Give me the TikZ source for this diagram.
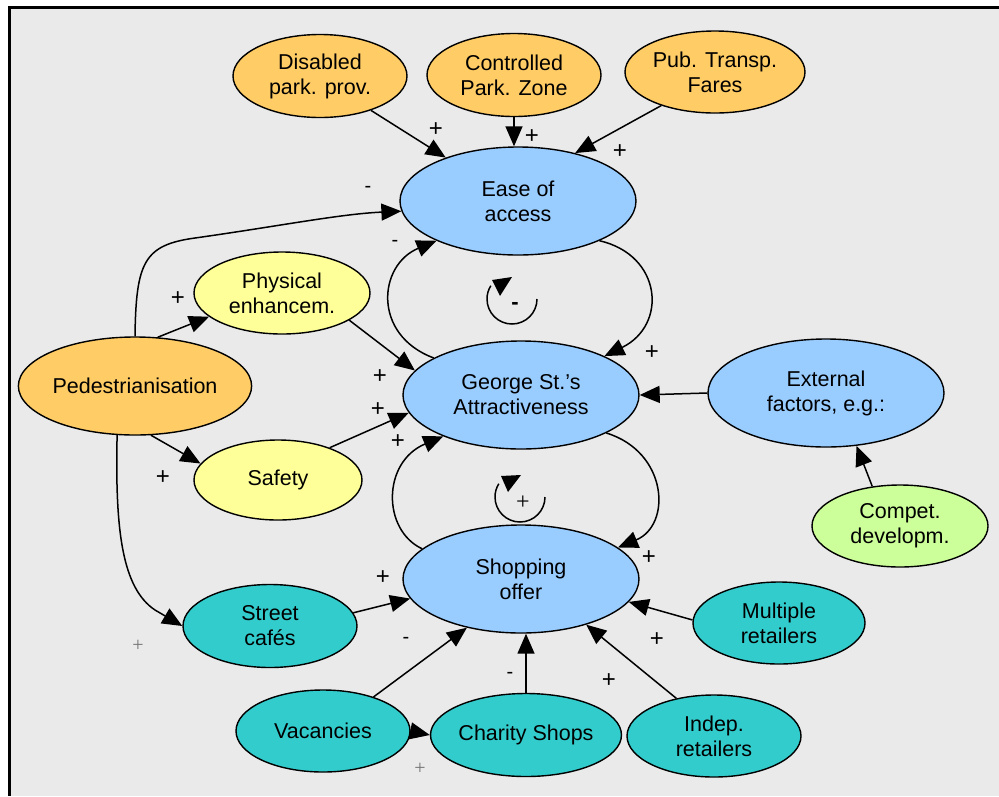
\documentclass[tikz,border=0pt]{standalone}
\usepackage{fontspec}
\setmainfont{Liberation Sans}
\newfontfamily\lightfont{Liberation Serif}
\usetikzlibrary{shapes.geometric,arrows.meta}
\definecolor{bgc}{HTML}{EAEAEA}
\definecolor{orangec}{HTML}{FFCC66}
\definecolor{yellowc}{HTML}{FFFF99}
\definecolor{bluec}{HTML}{99CCFF}
\definecolor{tealc}{HTML}{33CCCC}
\definecolor{greenc}{HTML}{CCFF99}
\begin{document}
\begin{tikzpicture}[x=1pt,y=-1pt,
  el/.style={ellipse, draw=black, line width=1.4pt, inner sep=0pt, align=center,
    font=\fontsize{21.5}{25}\selectfont},
  small/.style={el, minimum width=174pt, minimum height=83pt},
  big/.style={el, minimum width=236pt, minimum height=108pt},
  arr/.style={line width=1.5pt, -{Triangle[length=20pt,width=17pt]}},
  loopline/.style={line width=1.5pt},
  lbl/.style={font=\fontsize{24}{24}\selectfont, inner sep=0pt},
  lbm/.style={font=\fontsize{20}{20}\selectfont, inner sep=0pt},
  lbs/.style={font=\lightfont\fontsize{20}{20}\selectfont, text=black!55, inner sep=0pt}]
\useasboundingbox (0,0) rectangle (999,796);
\fill[white] (0,0) rectangle (999,796);
\fill[bgc] (9,7) rectangle (999,796);
\draw[line width=3pt] (8,7) -- (999,7);
\draw[line width=3pt] (9,7) -- (9,796);

% nodes
\node[small, fill=orangec] (dis) at (320,76) {Disabled\\park. prov.};
\node[small, fill=orangec] (ctl) at (514,75) {Controlled\\Park. Zone};
\node[small, fill=orangec, minimum width=180pt, minimum height=82pt] (pub) at (715,72) {Pub. Transp.\\Fares};
\node[big, fill=bluec] (ease) at (518,201) {Ease of\\access};
\node[small, fill=yellowc, minimum width=176pt, minimum height=82pt] (phy) at (282,293) {Physical\\enhancem.};
\node[el, fill=orangec, minimum width=220pt, minimum height=98pt] (ped) at (135,386) {Pedestrianisation};
\node[big, fill=bluec] (geo) at (521,395) {George St.’s\\Attractiveness};
\node[big, fill=bluec] (ext) at (826,393) {External\\factors, e.g.:};
\node[small, fill=yellowc, minimum width=168pt, minimum height=80pt] (saf) at (278,480) {Safety};
\node[small, fill=greenc, minimum width=176pt, minimum height=82pt] (com) at (900,526) {Compet.\\developm.};
\node[big, fill=bluec] (sho) at (521,579) {Shopping\\offer};
\node[small, fill=tealc] (caf) at (270,626) {Street\\cafés};
\node[small, fill=tealc, minimum width=172pt, minimum height=82pt] (mul) at (779,623) {Multiple\\retailers};
\node[small, fill=tealc, minimum width=174pt, minimum height=82pt] (ind) at (714,736) {Indep.\\retailers};
\node[small, fill=tealc, minimum width=174pt, minimum height=82pt] (vac) at (323,731) {Vacancies};
\node[small, fill=tealc, minimum width=172pt, minimum height=83pt] (cha) at (526,735) {Charity Shops};

% connectors
\draw[arr] (dis.-34) -- (ease.149);
\draw[arr] (ctl.south) -- (ctl.south |- ease.north);
\draw[arr] (pub.212) -- (ease.40);
\draw[arr] (ped.north) .. controls (136,262) and (144,245) .. (195,238)
  .. controls (280,226) and (340,214) .. (ease.185);
\draw[arr] (ped.65) -- (phy.198);
\draw[arr] (phy.-22) -- (geo.167);
\draw[arr] (ped.-72) -- (saf.168);
\draw[arr] (saf.32) -- (geo.189);
\draw[arr] (ped.250) .. controls (115,530) and (122,588) .. (155,610) -- (caf.west);
\draw[arr] (caf.9) -- (sho.190);
\draw[arr] (ease.-26) .. controls (662,255) and (668,325) .. (geo.25);
\draw[arr] (geo.157) .. controls (372,335) and (378,265) .. (ease.206);
\draw[arr] (geo.-24) .. controls (668,452) and (672,525) .. (sho.18);
\draw[arr] (sho.163) .. controls (382,530) and (382,462) .. (geo.208);
\draw[arr] (ext.west) -- (geo.east);
\draw[arr] (com.125) -- (ext.-60);
\draw[arr] (mul.178) -- (sho.-12);
\draw[arr] (ind.135) -- (sho.-35);
\draw[arr] (cha.north) -- (cha.north |- sho.south);
\draw[arr] (vac.34) -- (sho.222);
\draw[arr] (vac.east) -- (cha.west);

% loops
\coordinate (loopA) at (512,299);
\coordinate (loopB) at (520,497);
\draw[loopline] (loopA) ++(25,0) arc[start angle=0, end angle=212, radius=25];
\fill (loopA) ++(0,-22) -- ++(-20,3) -- ++(8,16) -- cycle;
\draw[loopline] (loopB) ++(25,0) arc[start angle=0, end angle=212, radius=25];
\fill (loopB) ++(1,-22) -- ++(-20,1) -- ++(7,16) -- cycle;

% labels
\node[lbl] (l1) at (436,130) {+};
\node[lbl] (l2) at (532,137) {+};
\node[lbl] (l3) at (620,152) {+};
\node[lbm] (l4) at (368,189) {-};
\node[lbl] (l5) at (178,299) {+};
\node[lbl] (l6) at (380,377) {+};
\node[lbl] (l7) at (163,478) {+};
\node[lbl] (l8) at (378,410) {+};
\node[lbl] (l9) at (398,442) {+};
\node[lbm] (l10) at (395,243) {-};
\node[lbl] (l11) at (652,353) {+};
\node[lbm, font=\bfseries\fontsize{22}{22}\selectfont] (l12) at (515,306) {-};
\node[lbs, text=black, font=\lightfont\fontsize{24}{24}\selectfont] (l13) at (523,503) {+};
\node[lbl] (l14) at (649,558) {+};
\node[lbl] (l15) at (383,578) {+};
\node[lbl] (l16) at (657,640) {+};
\node[lbm] (l17) at (406,640) {-};
\node[lbm] (l18) at (510,675) {-};
\node[lbl] (l19) at (609,681) {+};
\node[lbs] (l20) at (138,646) {+};
\node[lbs] (l21) at (420,769) {+};
\end{tikzpicture}
\end{document}
